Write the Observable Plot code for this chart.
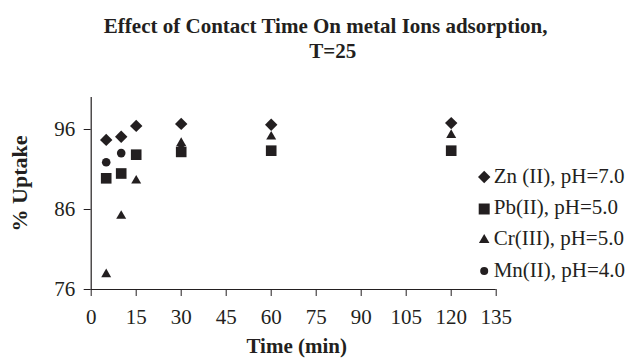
<!DOCTYPE html>
<html>
<head>
<meta charset="utf-8">
<script src="https://cdn.jsdelivr.net/npm/d3@7"></script>
<script src="https://cdn.jsdelivr.net/npm/@observablehq/plot@0.6"></script>
<style>
  html, body { margin: 0; padding: 0; background: #fff; }
</style>
</head>
<body>
<div id="chart"></div>
<script>
// Data
const times = [5, 10, 15, 30, 60, 120];
const zn = [94.7, 95.1, 96.45, 96.7, 96.6, 96.8];
const pb = [89.9, 90.5, 92.85, 93.2, 93.35, 93.35];
const cr = [77.9, 85.2, 89.6, 94.3, 95.1, 95.3];
const mnTimes = [5, 10, 15, 30];
const mn = [91.9, 93.05, 92.9, 93.5];

const seriesNames = ["Zn (II), pH=7.0", "Pb(II), pH=5.0", "Cr(III), pH=5.0", "Mn(II), pH=4.0"];
const seriesSymbols = ["diamond2", "square", "triangle", "circle"];
const seriesR = [5.6, 6.0, 3.7, 4.3];
const legendR = [5.6, 6.2, 3.9, 4.0];

const xTicks = [0, 15, 30, 45, 60, 75, 90, 105, 120, 135];
const yTicks = [76, 86, 96];

const titleLines = ["Effect of Contact Time On metal Ions adsorption,", "T=25"];
const xLabel = "Time (min)";
const yLabel = "% Uptake";

const seriesData = [
  times.map((t, i) => ({t, v: zn[i]})),
  times.map((t, i) => ({t, v: pb[i]})),
  times.map((t, i) => ({t, v: cr[i]})),
  mnTimes.map((t, i) => ({t, v: mn[i]}))
];

const ink = "#231f20";
const serif = "'Liberation Serif', 'Times New Roman', serif";
const fs = 21;

const marks = [
  Plot.ruleY([76], {stroke: ink, strokeWidth: 1.2}),
  Plot.ruleX([0], {stroke: ink, strokeWidth: 1.2}),
  Plot.axisX({ticks: xTicks, tickSize: 7, tickPadding: 13, fontSize: fs, label: null, stroke: ink, color: ink}),
  Plot.axisY({ticks: yTicks, tickSize: 7, tickPadding: 9, fontSize: fs, label: null, stroke: ink, color: ink}),
];

// series points
seriesData.forEach((d, i) => {
  marks.push(Plot.dot(d, {x: "t", y: "v", symbol: () => seriesSymbols[i], r: seriesR[i], fill: ink, stroke: "none"}));
});

// legend
const legendMarkDy = [79.5, 111.5, 142.5, 173.5];
const legendTextDy = [78.5, 110, 141, 172.5];
seriesNames.forEach((name, i) => {
  marks.push(Plot.dot([name], {frameAnchor: "top-right", dx: -12, dy: legendMarkDy[i], symbol: () => seriesSymbols[i], r: legendR[i], fill: ink, stroke: "none"}));
  marks.push(Plot.text([name], {frameAnchor: "top-right", dx: -2.5, dy: legendTextDy[i], text: d => d, textAnchor: "start", lineAnchor: "middle", fontSize: fs, fill: ink}));
});

// title
marks.push(Plot.text([titleLines[0]], {frameAnchor: "top", dx: 32, dy: -71.7, text: d => d, textAnchor: "middle", lineAnchor: "middle", fontSize: fs, fontWeight: "bold", fill: ink}));
marks.push(Plot.text([titleLines[1]], {frameAnchor: "top", dx: 39, dy: -46.7, text: d => d, textAnchor: "middle", lineAnchor: "middle", fontSize: fs, fontWeight: "bold", fill: ink}));

// axis labels
marks.push(Plot.text([xLabel], {frameAnchor: "bottom", dx: 3, dy: 57, text: d => d, textAnchor: "middle", lineAnchor: "middle", fontSize: fs, fontWeight: "bold", fill: ink}));
marks.push(Plot.text([yLabel], {frameAnchor: "left", dx: -71, dy: -10, rotate: -90, text: d => d, textAnchor: "middle", lineAnchor: "middle", fontSize: 22, fontWeight: "bold", fill: ink}));

const chart = Plot.plot({
  width: 629,
  height: 360,
  marginLeft: 90.7,
  marginRight: 133.3,
  marginTop: 97,
  marginBottom: 71,
  x: {domain: [0, 135]},
  y: {domain: [76, 100]},
  style: {fontFamily: serif, background: "#fff", color: ink, overflow: "visible"},
  marks
});
document.getElementById("chart").appendChild(chart);
</script>
</body>
</html>
